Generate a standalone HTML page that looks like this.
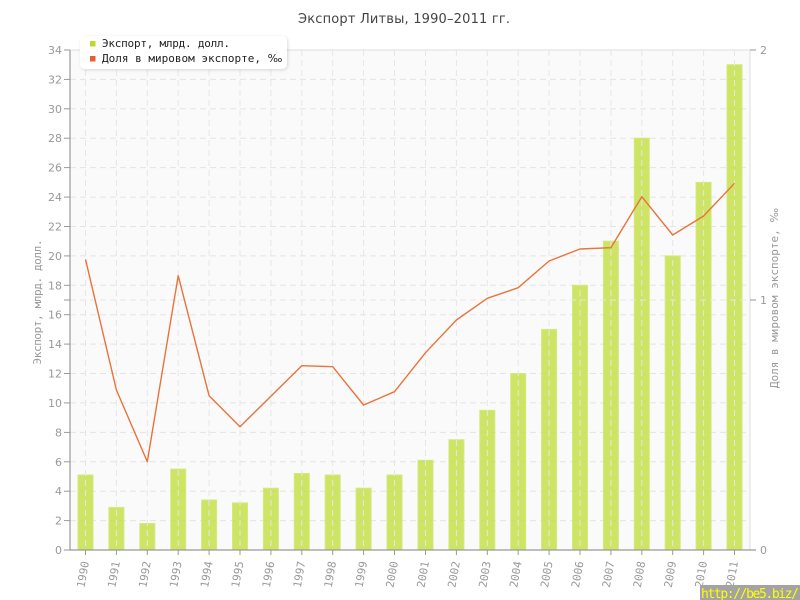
<!DOCTYPE html>
<html><head><meta charset="utf-8"><style>
html,body{margin:0;padding:0;background:#fff;}
svg{display:block;}
</style></head><body>
<svg width="800" height="600" xmlns="http://www.w3.org/2000/svg">
<rect x="0" y="0" width="800" height="600" fill="#fff"/>
<text x="404" y="23" text-anchor="middle" font-family="DejaVu Sans, sans-serif" font-size="13" fill="#444" textLength="212">Экспорт Литвы, 1990–2011 гг.</text>
<rect x="70" y="50" width="680" height="500" fill="#fafafa"/>
<g stroke="#e4e4e4" stroke-width="1" stroke-dasharray="6,4">
<line x1="70" y1="520.6" x2="750" y2="520.6"/>
<line x1="70" y1="491.2" x2="750" y2="491.2"/>
<line x1="70" y1="461.8" x2="750" y2="461.8"/>
<line x1="70" y1="432.4" x2="750" y2="432.4"/>
<line x1="70" y1="402.9" x2="750" y2="402.9"/>
<line x1="70" y1="373.5" x2="750" y2="373.5"/>
<line x1="70" y1="344.1" x2="750" y2="344.1"/>
<line x1="70" y1="314.7" x2="750" y2="314.7"/>
<line x1="70" y1="285.3" x2="750" y2="285.3"/>
<line x1="70" y1="255.9" x2="750" y2="255.9"/>
<line x1="70" y1="226.5" x2="750" y2="226.5"/>
<line x1="70" y1="197.1" x2="750" y2="197.1"/>
<line x1="70" y1="167.6" x2="750" y2="167.6"/>
<line x1="70" y1="138.2" x2="750" y2="138.2"/>
<line x1="70" y1="108.8" x2="750" y2="108.8"/>
<line x1="70" y1="79.4" x2="750" y2="79.4"/>
</g>
<g fill="#c6e04e" fill-opacity="0.88" stroke="#d4e880" stroke-width="1">
<rect x="78" y="475.0" width="15" height="75.0"/>
<rect x="108.9" y="507.4" width="15" height="42.6"/>
<rect x="139.8" y="523.5" width="15" height="26.5"/>
<rect x="170.7" y="469.1" width="15" height="80.9"/>
<rect x="201.6" y="500.0" width="15" height="50.0"/>
<rect x="232.5" y="502.9" width="15" height="47.1"/>
<rect x="263.4" y="488.2" width="15" height="61.8"/>
<rect x="294.3" y="473.5" width="15" height="76.5"/>
<rect x="325.2" y="475.0" width="15" height="75.0"/>
<rect x="356.1" y="488.2" width="15" height="61.8"/>
<rect x="387.0" y="475.0" width="15" height="75.0"/>
<rect x="418.0" y="460.3" width="15" height="89.7"/>
<rect x="448.9" y="439.7" width="15" height="110.3"/>
<rect x="479.8" y="410.3" width="15" height="139.7"/>
<rect x="510.7" y="373.5" width="15" height="176.5"/>
<rect x="541.6" y="329.4" width="15" height="220.6"/>
<rect x="572.5" y="285.3" width="15" height="264.7"/>
<rect x="603.4" y="241.2" width="15" height="308.8"/>
<rect x="634.3" y="138.2" width="15" height="411.8"/>
<rect x="665.2" y="255.9" width="15" height="294.1"/>
<rect x="696.1" y="182.4" width="15" height="367.6"/>
<rect x="727.0" y="64.7" width="15" height="485.3"/>
</g>
<g stroke="#e6e6e6" stroke-width="1" stroke-dasharray="6,4">
<line x1="70" y1="300" x2="750" y2="300"/>
<line x1="85.5" y1="50" x2="85.5" y2="550"/>
<line x1="116.4" y1="50" x2="116.4" y2="550"/>
<line x1="147.3" y1="50" x2="147.3" y2="550"/>
<line x1="178.2" y1="50" x2="178.2" y2="550"/>
<line x1="209.1" y1="50" x2="209.1" y2="550"/>
<line x1="240.0" y1="50" x2="240.0" y2="550"/>
<line x1="270.9" y1="50" x2="270.9" y2="550"/>
<line x1="301.8" y1="50" x2="301.8" y2="550"/>
<line x1="332.7" y1="50" x2="332.7" y2="550"/>
<line x1="363.6" y1="50" x2="363.6" y2="550"/>
<line x1="394.5" y1="50" x2="394.5" y2="550"/>
<line x1="425.5" y1="50" x2="425.5" y2="550"/>
<line x1="456.4" y1="50" x2="456.4" y2="550"/>
<line x1="487.3" y1="50" x2="487.3" y2="550"/>
<line x1="518.2" y1="50" x2="518.2" y2="550"/>
<line x1="549.1" y1="50" x2="549.1" y2="550"/>
<line x1="580.0" y1="50" x2="580.0" y2="550"/>
<line x1="610.9" y1="50" x2="610.9" y2="550"/>
<line x1="641.8" y1="50" x2="641.8" y2="550"/>
<line x1="672.7" y1="50" x2="672.7" y2="550"/>
<line x1="703.6" y1="50" x2="703.6" y2="550"/>
<line x1="734.5" y1="50" x2="734.5" y2="550"/>
</g>
<polyline fill="none" stroke="#e8743b" stroke-width="1.4" stroke-linejoin="round" points="85.5,259.3 116.4,390 147.3,461.7 178.2,275.7 209.1,395.7 240.0,426.7 270.9,396.2 301.8,365.7 332.7,366.7 363.6,405 394.5,391.7 425.5,352.7 456.4,320 487.3,298.3 518.2,287.7 549.1,261 580.0,249 610.9,247.7 641.8,196.7 672.7,235 703.6,216 734.5,183.3"/>
<line x1="70" y1="50" x2="750" y2="50" stroke="#dddddd"/>
<line x1="750" y1="50" x2="750" y2="550" stroke="#dddddd"/>
<line x1="70" y1="50" x2="70" y2="550" stroke="#999" stroke-width="1.2"/>
<line x1="70" y1="550" x2="756" y2="550" stroke="#999" stroke-width="1.2"/>
<g stroke="#999" stroke-width="1">
<line x1="64" y1="550" x2="70" y2="550"/><line x1="64" y1="520.6" x2="70" y2="520.6"/><line x1="64" y1="491.2" x2="70" y2="491.2"/><line x1="64" y1="461.8" x2="70" y2="461.8"/><line x1="64" y1="432.4" x2="70" y2="432.4"/><line x1="64" y1="402.9" x2="70" y2="402.9"/><line x1="64" y1="373.5" x2="70" y2="373.5"/><line x1="64" y1="344.1" x2="70" y2="344.1"/><line x1="64" y1="314.7" x2="70" y2="314.7"/><line x1="64" y1="300" x2="70" y2="300"/><line x1="64" y1="285.3" x2="70" y2="285.3"/><line x1="64" y1="255.9" x2="70" y2="255.9"/><line x1="64" y1="226.5" x2="70" y2="226.5"/><line x1="64" y1="197.1" x2="70" y2="197.1"/><line x1="64" y1="167.6" x2="70" y2="167.6"/><line x1="64" y1="138.2" x2="70" y2="138.2"/><line x1="64" y1="108.8" x2="70" y2="108.8"/><line x1="64" y1="79.4" x2="70" y2="79.4"/><line x1="64" y1="50" x2="70" y2="50"/>
<line x1="750" y1="50" x2="756" y2="50"/><line x1="750" y1="300" x2="756" y2="300"/>
<line x1="85.5" y1="550" x2="85.5" y2="555"/><line x1="116.4" y1="550" x2="116.4" y2="555"/><line x1="147.3" y1="550" x2="147.3" y2="555"/><line x1="178.2" y1="550" x2="178.2" y2="555"/><line x1="209.1" y1="550" x2="209.1" y2="555"/><line x1="240.0" y1="550" x2="240.0" y2="555"/><line x1="270.9" y1="550" x2="270.9" y2="555"/><line x1="301.8" y1="550" x2="301.8" y2="555"/><line x1="332.7" y1="550" x2="332.7" y2="555"/><line x1="363.6" y1="550" x2="363.6" y2="555"/><line x1="394.5" y1="550" x2="394.5" y2="555"/><line x1="425.5" y1="550" x2="425.5" y2="555"/><line x1="456.4" y1="550" x2="456.4" y2="555"/><line x1="487.3" y1="550" x2="487.3" y2="555"/><line x1="518.2" y1="550" x2="518.2" y2="555"/><line x1="549.1" y1="550" x2="549.1" y2="555"/><line x1="580.0" y1="550" x2="580.0" y2="555"/><line x1="610.9" y1="550" x2="610.9" y2="555"/><line x1="641.8" y1="550" x2="641.8" y2="555"/><line x1="672.7" y1="550" x2="672.7" y2="555"/><line x1="703.6" y1="550" x2="703.6" y2="555"/><line x1="734.5" y1="550" x2="734.5" y2="555"/>
</g>
<g font-family="DejaVu Sans, sans-serif" font-size="11" fill="#999" text-anchor="end">
<text x="62" y="554">0</text><text x="62" y="524.6">2</text><text x="62" y="495.2">4</text><text x="62" y="465.8">6</text><text x="62" y="436.4">8</text><text x="62" y="406.9">10</text><text x="62" y="377.5">12</text><text x="62" y="348.1">14</text><text x="62" y="318.7">16</text><text x="62" y="289.3">18</text><text x="62" y="259.9">20</text><text x="62" y="230.5">22</text><text x="62" y="201.1">24</text><text x="62" y="171.6">26</text><text x="62" y="142.2">28</text><text x="62" y="112.8">30</text><text x="62" y="83.4">32</text><text x="62" y="54">34</text>
</g>
<g font-family="DejaVu Sans, sans-serif" font-size="11" fill="#999">
<text x="760" y="554">0</text><text x="760" y="304">1</text><text x="760" y="54">2</text>
</g>
<g font-family="DejaVu Sans Mono, Liberation Mono, monospace" font-size="11" fill="#999" text-anchor="end">
<text transform="translate(89,562) rotate(-80)">1990</text>
<text transform="translate(119.9,562) rotate(-80)">1991</text>
<text transform="translate(150.8,562) rotate(-80)">1992</text>
<text transform="translate(181.7,562) rotate(-80)">1993</text>
<text transform="translate(212.6,562) rotate(-80)">1994</text>
<text transform="translate(243.5,562) rotate(-80)">1995</text>
<text transform="translate(274.4,562) rotate(-80)">1996</text>
<text transform="translate(305.3,562) rotate(-80)">1997</text>
<text transform="translate(336.2,562) rotate(-80)">1998</text>
<text transform="translate(367.1,562) rotate(-80)">1999</text>
<text transform="translate(398.0,562) rotate(-80)">2000</text>
<text transform="translate(429.0,562) rotate(-80)">2001</text>
<text transform="translate(459.9,562) rotate(-80)">2002</text>
<text transform="translate(490.8,562) rotate(-80)">2003</text>
<text transform="translate(521.7,562) rotate(-80)">2004</text>
<text transform="translate(552.6,562) rotate(-80)">2005</text>
<text transform="translate(583.5,562) rotate(-80)">2006</text>
<text transform="translate(614.4,562) rotate(-80)">2007</text>
<text transform="translate(645.3,562) rotate(-80)">2008</text>
<text transform="translate(676.2,562) rotate(-80)">2009</text>
<text transform="translate(707.1,562) rotate(-80)">2010</text>
<text transform="translate(738.0,562) rotate(-80)">2011</text>
</g>
<text transform="translate(41,302) rotate(-90)" text-anchor="middle" font-family="DejaVu Sans Mono, Liberation Mono, monospace" font-size="11" fill="#999" textLength="125">Экспорт, млрд. долл.</text>
<text transform="translate(778,298) rotate(-90)" text-anchor="middle" font-family="DejaVu Sans Mono, Liberation Mono, monospace" font-size="11" fill="#999">Доля в мировом экспорте, <tspan font-family="DejaVu Sans, sans-serif">‰</tspan></text>
<defs><filter id="sh" x="-10%" y="-30%" width="120%" height="160%"><feDropShadow dx="1" dy="1" stdDeviation="1.5" flood-color="#000" flood-opacity="0.15"/></filter></defs>
<rect x="80" y="36" width="207" height="33" rx="5" ry="5" fill="#fff" filter="url(#sh)"/>
<rect x="90" y="41" width="5.5" height="5.5" fill="#bcd92c"/>
<rect x="90" y="56" width="5.5" height="5.5" fill="#e2622f"/>
<g font-family="DejaVu Sans Mono, Liberation Mono, monospace" font-size="11" fill="#222">
<text x="102" y="47" textLength="128">Экспорт, млрд. долл.</text>
<text x="102" y="62">Доля в мировом экспорте, <tspan font-family="DejaVu Sans, sans-serif">‰</tspan></text>
</g>
<rect x="700" y="585" width="100" height="15" fill="#a3a3a3"/>
<text x="701" y="598" font-family="DejaVu Sans Mono, Liberation Mono, monospace" font-size="13" fill="#ffff00" textLength="98">http://be5.biz/</text>
</svg>
</body></html>
